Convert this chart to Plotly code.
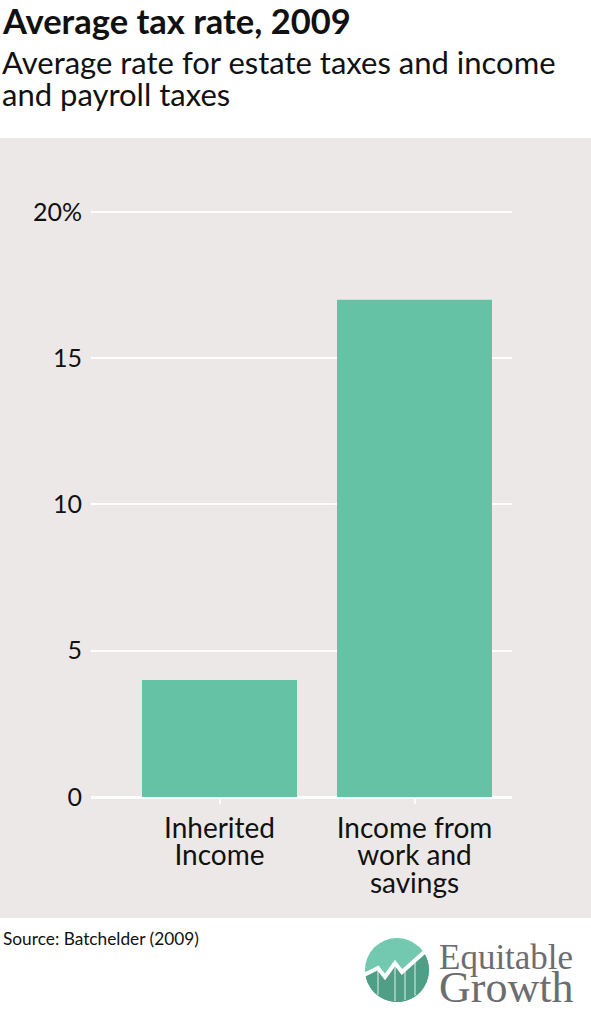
import numpy as np
import plotly.graph_objects as go

categories = ["Inherited Income", "Income from work and savings"]
category_lines = [["Inherited", "Income"], ["Income from", "work and", "savings"]]
tax_rate = [4, 17]
tick_vals = [0, 5, 10, 15, 20]
tick_text = ["0", "5", "10", "15", "20%"]

W, H = 591, 1024
ML, MR, MT, MB = 91, 79, 197, 227
PW, PH = W - ML - MR, H - MT - MB
YMAX = 20.512


def px(x):
    return (x - ML) / PW


def py(y):
    return (H - MB - y) / PH


def tight(lines, size):
    # each line drawn at `size`; line spacing set by the (smaller) base font
    return "<br>".join(f"<span style='font-size:{size}px'>{ln}</span>" for ln in lines)


BG = "#ece8e7"
GREEN = "#66c2a5"
INK = "#111111"
FONT = "Lato"

fig = go.Figure()
fig.add_trace(go.Bar(x=categories, y=tax_rate, marker=dict(color=GREEN, line=dict(width=0)),
                     width=0.795, hoverinfo="skip"))

shapes = [
    dict(type="rect", xref="paper", yref="paper", x0=px(0), x1=px(W), y0=py(918), y1=py(138),
         fillcolor=BG, line=dict(width=0), layer="below"),
]

# logo
cx, cy = px(397), py(970)
R = 32
shapes.append(dict(type="circle", xref="paper", yref="paper", xsizemode="pixel", ysizemode="pixel",
                   xanchor=cx, yanchor=cy, x0=-R, x1=R, y0=-R, y1=R,
                   fillcolor="#72c9b0", line=dict(width=0), layer="above"))
zig = [(-31, -5), (-19, 2), (-12, -7), (-2, 7), (5, -2), (26, 18)]
a0 = np.degrees(np.arctan2(18, 26))
angs = np.radians(np.linspace(a0, -171, 30))
pts = zig + [(R * np.cos(a), R * np.sin(a)) for a in angs]
path = "M " + " L ".join(f"{x:.1f},{y:.1f}" for x, y in pts) + " Z"
shapes.append(dict(type="path", xref="paper", yref="paper", xsizemode="pixel", ysizemode="pixel",
                   xanchor=cx, yanchor=cy, path=path, fillcolor="#4f9e86",
                   line=dict(width=0), layer="above"))
for vx, top in [(-19, 2), (-2, 7), (8, 1), (18, 10)]:
    bottom = -np.sqrt(R * R - vx * vx) + 1
    shapes.append(dict(type="path", xref="paper", yref="paper", xsizemode="pixel", ysizemode="pixel",
                       xanchor=cx, yanchor=cy, path=f"M {vx},{top} L {vx},{bottom:.1f}",
                       line=dict(color="rgba(255,255,255,0.7)", width=1.2), layer="above"))
zpath = "M -33,-5 L -19,2 L -12,-7 L -2,7 L 5,-2 L 34,24"
shapes.append(dict(type="path", xref="paper", yref="paper", xsizemode="pixel", ysizemode="pixel",
                   xanchor=cx, yanchor=cy, path=zpath, line=dict(color="white", width=4),
                   layer="above"))


def note(text, x, ytop, size, family=FONT, color=INK):
    return dict(text=text, xref="paper", yref="paper", x=x, y=py(ytop), xanchor="left",
                yanchor="top", showarrow=False, align="left",
                font=dict(family=family, size=size, color=color))


annotations = [
    note("<b>Average tax rate, 2009</b>", px(0), -2, 34.5),
    note(tight(["Average rate for estate taxes and income", "and payroll taxes"], 31),
         px(0), 41, 32 / 1.3),
    note("Source: Batchelder (2009)", px(1), 926, 17.3),
    note("<span style='font-size:35px'>Equitable</span><br>"
         "<span style='font-size:44px'>Growth</span>",
         px(437), 936, 33 / 1.3, family="Liberation Serif", color="#6b6d70"),
]

x_ticktext = [tight(lines, 28) for lines in category_lines]

fig.update_layout(
    width=W, height=H,
    margin=dict(l=ML, r=MR, t=MT, b=MB, pad=0),
    paper_bgcolor="white", plot_bgcolor="rgba(0,0,0,0)",
    showlegend=False, bargap=0.2,
    shapes=shapes, annotations=annotations,
    font=dict(family=FONT, color=INK),
    xaxis=dict(range=[-0.659, 1.5], showgrid=False, zeroline=False, showline=False,
               tickvals=categories, ticktext=x_ticktext,
               ticks="outside", ticklen=6, tickwidth=2, tickcolor="white",
               ticklabelstandoff=8,
               tickfont=dict(family=FONT, size=27.7 / 1.3, color=INK), fixedrange=True),
    yaxis=dict(range=[0, YMAX], tickvals=tick_vals, ticktext=tick_text, showgrid=True,
               gridcolor="white", gridwidth=2, zeroline=True, zerolinecolor="white",
               zerolinewidth=3, showline=False, ticks="", ticklabelstandoff=8,
               tickfont=dict(family=FONT, size=25, color=INK), fixedrange=True),
)

fig.write_html("out.html", post_script="document.body.style.margin='0';",
               config={"displayModeBar": False})
